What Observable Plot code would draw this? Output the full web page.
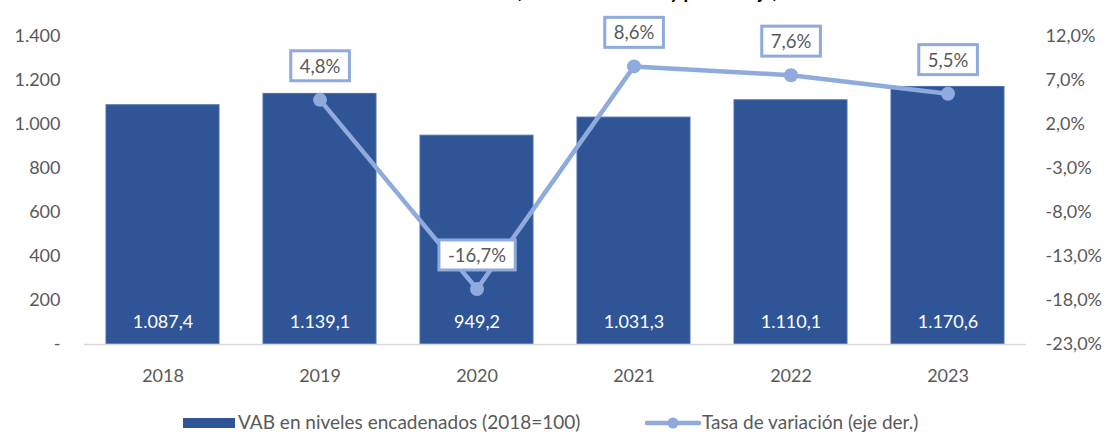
<!DOCTYPE html>
<html><head><meta charset="utf-8">
<script src="https://cdn.jsdelivr.net/npm/d3@7"></script>
<script src="https://cdn.jsdelivr.net/npm/@observablehq/plot@0.6"></script>
<style>
body{margin:0;background:#fff;font-family:Lato,sans-serif;}
#wrap{position:relative;width:1107px;height:432px;overflow:hidden;background:#fff;}
#title{position:absolute;left:120px;width:900px;top:-21px;text-align:center;font:italic bold 20px/22px Lato,sans-serif;color:#000;white-space:nowrap;}
#chart{position:absolute;left:0;top:0;}
.lg{position:absolute;font:19px/20px Lato,sans-serif;color:#595959;white-space:nowrap;}
</style></head><body>
<div id="wrap">
<div id="chart"></div>
<div id="title">Evolución del VAB (millones de euros y porcentaje)</div>
<div class="lg" style="left:183px;top:418px;width:52px;height:10px;background:#2F5597;"></div>
<div class="lg" id="lg1" style="left:238px;top:412px;"></div>
<svg class="lg" style="left:645px;top:413px;" width="56" height="20"><line x1="2" x2="54" y1="10" y2="10" stroke="#8FAADC" stroke-width="4.5" stroke-linecap="round"/><circle cx="28" cy="10" r="5.5" fill="#8FAADC"/></svg>
<div class="lg" id="lg2" style="left:702px;top:412px;"></div>
</div>
<script>
const years = ["2018", "2019", "2020", "2021", "2022", "2023"];
const vab = [1087.4, 1139.1, 949.2, 1031.3, 1110.1, 1170.6];
const tasa = [null, 4.8, -16.7, 8.6, 7.6, 5.5];
const leftTicks = [0, 200, 400, 600, 800, 1000, 1200, 1400];
const rightTickLabels = ["-23,0%", "-18,0%", "-13,0%", "-8,0%", "-3,0%", "2,0%", "7,0%", "12,0%"];
const seriesNames = ["VAB en niveles encadenados (2018=100)", "Tasa de variación (eje der.)"];
const pctMin = -23, pctMax = 12, leftMax = 1400;

document.getElementById("lg1").textContent = seriesNames[0];
document.getElementById("lg2").textContent = seriesNames[1];

const loc = d3.formatLocale({decimal: ",", thousands: ".", grouping: [3], currency: ["", "€"], minus: "-"});
const fInt = loc.format(",.0f"), f1 = loc.format(",.1f");
const toLeft = p => (p - pctMin) / (pctMax - pctMin) * leftMax;

const rows = years.map((y, i) => ({year: y, vab: vab[i], tasa: tasa[i]}));
const lineRows = rows.filter(d => d.tasa != null);

const plot = Plot.plot({
  width: 1107, height: 400,
  marginTop: 36, marginBottom: 56, marginLeft: 84, marginRight: 81,
  x: {domain: years, paddingInner: 0.28, paddingOuter: 0.14, axis: null},
  y: {domain: [0, leftMax], axis: null},
  style: {fontFamily: "Lato, sans-serif", fontSize: "18px", color: "#595959", background: "white", overflow: "visible"},
  marks: [
    Plot.barY(rows, {x: "year", y: "vab", fill: "#2F5597", stroke: "#4A6FB0", strokeWidth: 1}),
    Plot.ruleY([0], {stroke: "#D9D9D9", strokeWidth: 1.5}),
    Plot.axisX({tickSize: 0, tickPadding: 25, label: null, fill: "#595959"}),
    Plot.axisY({ticks: leftTicks, tickFormat: d => d === 0 ? "-" : fInt(d), tickSize: 0, tickPadding: 24, label: null, fill: "#595959"}),
    Plot.axisY({anchor: "right", ticks: leftTicks, tickFormat: d => rightTickLabels[leftTicks.indexOf(d)], tickSize: 0, tickPadding: 19, label: null, fill: "#595959"}),
    Plot.text(rows, {x: "year", y: 0, text: d => f1(d.vab), fill: "white", dy: -22}),
    Plot.line(lineRows, {x: "year", y: d => toLeft(d.tasa), stroke: "#8FAADC", strokeWidth: 4.5}),
    Plot.dot(lineRows, {x: "year", y: d => toLeft(d.tasa), r: 7, fill: "#8FAADC"}),
    Plot.text(lineRows, {x: "year", y: d => toLeft(d.tasa), text: d => f1(d.tasa) + "%", dy: -33, fill: "#595959", fontSize: 18.5, className: "pctlab"})
  ]
});
document.getElementById("chart").appendChild(plot);

// white label boxes behind the percentage labels
const svgNS = "http://www.w3.org/2000/svg";
plot.querySelectorAll("g.pctlab text").forEach(t => {
  const b = t.getBBox();
  const r = document.createElementNS(svgNS, "rect");
  const px = 9, py = 4;
  r.setAttribute("x", b.x - px);
  r.setAttribute("y", b.y - py);
  r.setAttribute("width", b.width + 2 * px);
  r.setAttribute("height", b.height + 2 * py);
  r.setAttribute("fill", "white");
  r.setAttribute("stroke", "#8FAADC");
  r.setAttribute("stroke-width", 3);
  const tr = t.getAttribute("transform");
  if (tr) r.setAttribute("transform", tr);
  t.parentNode.insertBefore(r, t);
});
</script>
</body></html>
